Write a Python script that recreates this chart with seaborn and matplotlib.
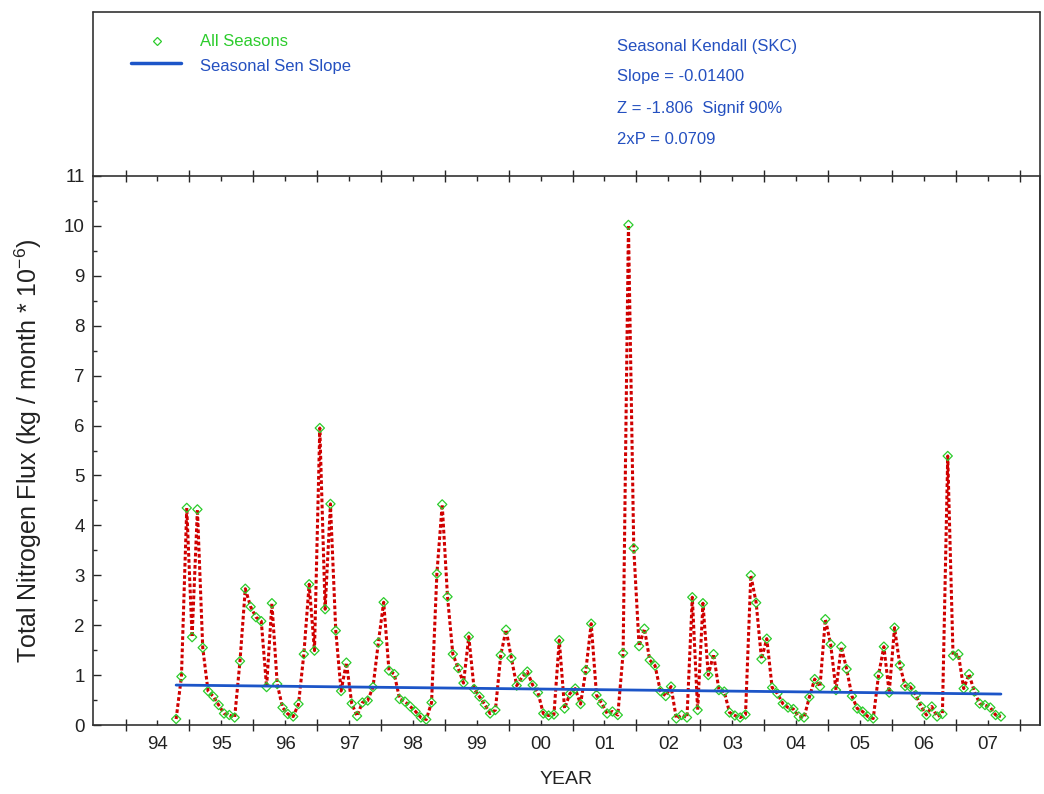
import numpy as np
import pandas as pd
import matplotlib
matplotlib.use("Agg")
import matplotlib.pyplot as plt
from matplotlib.ticker import MultipleLocator, FixedLocator
from matplotlib.lines import Line2D
import seaborn as sns

# monthly flux, water years 1995-2007 (Oct 1994 .. Sep 2007), kg/month * 10^-6
flux = [
    0.12, 0.97, 4.35, 1.76, 4.32, 1.55, 0.68, 0.57, 0.40, 0.23, 0.20, 0.15,  # WY95
    1.28, 2.73, 2.37, 2.16, 2.08, 0.76, 2.44, 0.82, 0.35, 0.22, 0.17, 0.42,  # WY96
    1.42, 2.82, 1.49, 5.95, 2.32, 4.43, 1.89, 0.68, 1.25, 0.43, 0.18, 0.45,  # WY97
    0.49, 0.76, 1.65, 2.46, 1.09, 1.02, 0.52, 0.47, 0.37, 0.27, 0.15, 0.11,  # WY98
    0.45, 3.03, 4.42, 2.57, 1.42, 1.14, 0.84, 1.77, 0.72, 0.57, 0.41, 0.23,  # WY99
    0.30, 1.40, 1.91, 1.34, 0.79, 0.96, 1.07, 0.80, 0.65, 0.23, 0.19, 0.21,  # WY00
    1.70, 0.33, 0.63, 0.73, 0.42, 1.10, 2.03, 0.60, 0.43, 0.23, 0.27, 0.20,  # WY01
    1.44, 10.02, 3.54, 1.58, 1.93, 1.30, 1.19, 0.68, 0.58, 0.77, 0.13, 0.20,  # WY02
    0.15, 2.56, 0.30, 2.44, 1.00, 1.42, 0.70, 0.67, 0.25, 0.19, 0.15, 0.21,  # WY03
    3.00, 2.45, 1.32, 1.73, 0.75, 0.63, 0.43, 0.35, 0.32, 0.17, 0.15, 0.56,  # WY04
    0.92, 0.77, 2.12, 1.62, 0.70, 1.57, 1.12, 0.58, 0.33, 0.27, 0.17, 0.13,  # WY05
    1.00, 1.57, 0.65, 1.95, 1.20, 0.78, 0.76, 0.60, 0.37, 0.20, 0.37, 0.17,  # WY06
    0.22, 5.39, 1.39, 1.42, 0.73, 1.02, 0.67, 0.43, 0.40, 0.35, 0.20, 0.17,  # WY07
]
dates = pd.date_range("1994-10-01", periods=len(flux), freq="MS")
decyear = dates.year + (dates.month - 0.5) / 12.0

# seasonal sen slope line (end points)
sen_x = [decyear[0], decyear[-1]]
sen_y = [0.80, 0.62]

year_labels = ["94", "95", "96", "97", "98", "99", "00", "01", "02", "03", "04", "05", "06", "07"]
stats_lines = ["Seasonal Kendall (SKC)", "Slope = -0.01400",
               "Z = -1.806  Signif 90%", "2xP = 0.0709"]

df = pd.DataFrame({"t": decyear, "flux": flux})

sns.set_style("ticks")
plt.rcParams["font.family"] = ["Liberation Sans", "DejaVu Sans"]
plt.rcParams["mathtext.fontset"] = "custom"
plt.rcParams["mathtext.rm"] = "Liberation Sans"

W, H = 1044, 794
fig = plt.figure(figsize=(W / 100, H / 100), dpi=100)
ax = fig.add_axes([93 / W, 1 - 725 / H, (1040 - 93) / W, (725 - 176) / H])

green = "#2ccc2c"
red = "#d00000"
blue = "#1c55c8"
tblue = "#2450c0"

sns.lineplot(data=df, x="t", y="flux", ax=ax, color=red, lw=2.2,
             linestyle=(0, (1.2, 0.8)), zorder=2)
sns.scatterplot(data=df, x="t", y="flux", ax=ax, marker="D", s=22,
                facecolors="none", edgecolor=green, linewidth=0.9, zorder=3)
sns.lineplot(x=sen_x, y=sen_y, ax=ax, color=blue, lw=2.0, zorder=4)

ax.set_xlim(1993.49, 2008.32)
ax.set_ylim(0, 11)

# year boundaries as major ticks, labels at mid-year minor ticks
ax.xaxis.set_major_locator(FixedLocator(np.arange(1994, 2009)))
ax.set_xticklabels([])
ax.set_xticks(np.arange(1994, 2008) + 0.5, labels=year_labels, minor=True)
ax.yaxis.set_major_locator(MultipleLocator(1))
ax.yaxis.set_minor_locator(MultipleLocator(0.5))

ax.tick_params(axis="x", which="major", direction="inout", length=8, width=1,
               top=True, bottom=True)
ax.tick_params(axis="x", which="minor", direction="in", length=3.5, width=1,
               top=True, bottom=True, labelsize=13.5, pad=8, labelcolor="#222222")
ax.tick_params(axis="y", which="major", direction="in", length=6, width=1,
               labelsize=13.5, pad=6, labelcolor="#222222")
ax.tick_params(axis="y", which="minor", direction="in", length=3, width=1)

for s in ax.spines.values():
    s.set_color("#333333")
    s.set_linewidth(1.2)

ax.set_xlabel("YEAR", fontsize=14, labelpad=13, color="#222222")
ax.set_ylabel("Total Nitrogen Flux (kg / month * 10$^{-6}$)", fontsize=18,
              labelpad=14, color="#222222")

# frame of the header box above the plot
fig.add_artist(Line2D([93 / W, 93 / W], [1 - 176 / H, 1 - 12 / H], color="#333333", lw=1.2))
fig.add_artist(Line2D([93 / W, 1040 / W], [1 - 12 / H, 1 - 12 / H], color="#333333", lw=1.2))
fig.add_artist(Line2D([1040 / W, 1040 / W], [1 - 725 / H, 1 - 12 / H], color="#333333", lw=1.2))

# legend
fig.add_artist(Line2D([157 / W], [1 - 41 / H], marker="D", ms=4, mfc="none",
                      mec=green, mew=0.9, ls=""))
fig.text(200 / W, 1 - 41 / H, "All Seasons", color=green, fontsize=12, va="center")
fig.add_artist(Line2D([131 / W, 181 / W], [1 - 63 / H, 1 - 63 / H], color=blue, lw=2.5))
fig.text(200 / W, 1 - 66 / H, "Seasonal Sen Slope", color=tblue, fontsize=12, va="center")

for i, line in enumerate(stats_lines):
    fig.text(617 / W, 1 - (46 + i * 31) / H, line, color=tblue, fontsize=12, va="center")

fig.savefig("out.png", dpi=100)
